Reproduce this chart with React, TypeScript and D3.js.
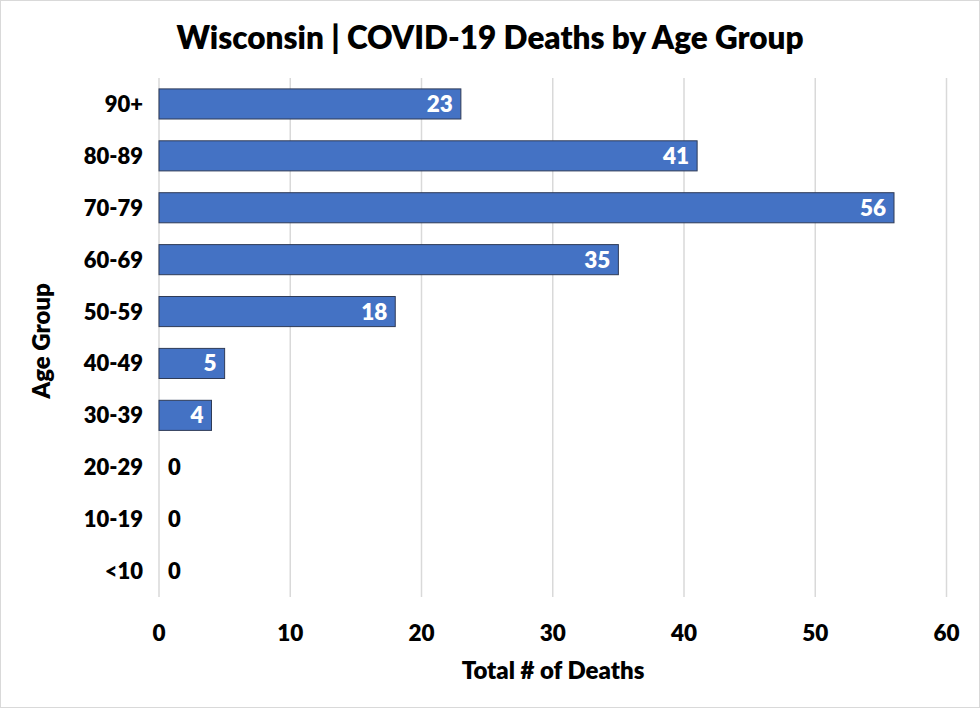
import React from "react";
import * as d3 from "d3";

const ageGroups = ["90+", "80-89", "70-79", "60-69", "50-59", "40-49", "30-39", "20-29", "10-19", "<10"];
const deaths = [23, 41, 56, 35, 18, 5, 4, 0, 0, 0];
const xTicks = [0, 10, 20, 30, 40, 50, 60];

const W = 980, H = 708;
const left = 159, right = 946.5, top = 78, bottom = 597;
const FONT = "Lato, 'Open Sans', sans-serif";

export default function App() {
  const x = d3.scaleLinear().domain([0, 60]).range([left, right]);
  const y = d3.scaleBand<string>().domain(ageGroups).range([top, bottom]).paddingInner(0.42).paddingOuter(0.21);
  return (
    <svg width={W} height={H} style={{ position: "absolute", left: 0, top: 0, display: "block" }} fontFamily={FONT}>
      <rect x={0.5} y={0.5} width={W - 1} height={H - 1} fill="#fff" stroke="#d9d9d9" />
      <text x={490} y={49} textAnchor="middle" fontSize={31.5} fontWeight={800} fill="#000">
        Wisconsin | COVID-19 Deaths by Age Group
      </text>
      {xTicks.map((t) => (
        <g key={t}>
          <line x1={x(t)} x2={x(t)} y1={top} y2={bottom} stroke="#d9d9d9" strokeWidth={1.5} />
          <text x={x(t)} y={641} textAnchor="middle" fontSize={22.5} fontWeight={800} fill="#000">{t}</text>
        </g>
      ))}
      {ageGroups.map((g, i) => {
        const v = deaths[i];
        const yy = y(g)!;
        const bh = y.bandwidth();
        return (
          <g key={g}>
            <text x={143} y={yy + bh / 2 + 8} textAnchor="end" fontSize={22} fontWeight={800} fill="#000">{g}</text>
            {v > 0 && (
              <rect x={x(0)} y={yy} width={x(v) - x(0)} height={bh} fill="#4472C4" stroke="#2F3B57" strokeWidth={1} />
            )}
            {v > 0 ? (
              <text x={x(v) - 8} y={yy + bh / 2 + 8} textAnchor="end" fontSize={22.5} fontWeight={800} fill="#fff">{v}</text>
            ) : (
              <text x={x(0) + 9} y={yy + bh / 2 + 8} textAnchor="start" fontSize={22} fontWeight={800} fill="#000">{v}</text>
            )}
          </g>
        );
      })}
      <text x={553} y={679} textAnchor="middle" fontSize={24} fontWeight={800} fill="#000">Total # of Deaths</text>
      <text transform={`translate(50,341) rotate(-90)`} textAnchor="middle" fontSize={24} fontWeight={800} fill="#000">Age Group</text>
    </svg>
  );
}
